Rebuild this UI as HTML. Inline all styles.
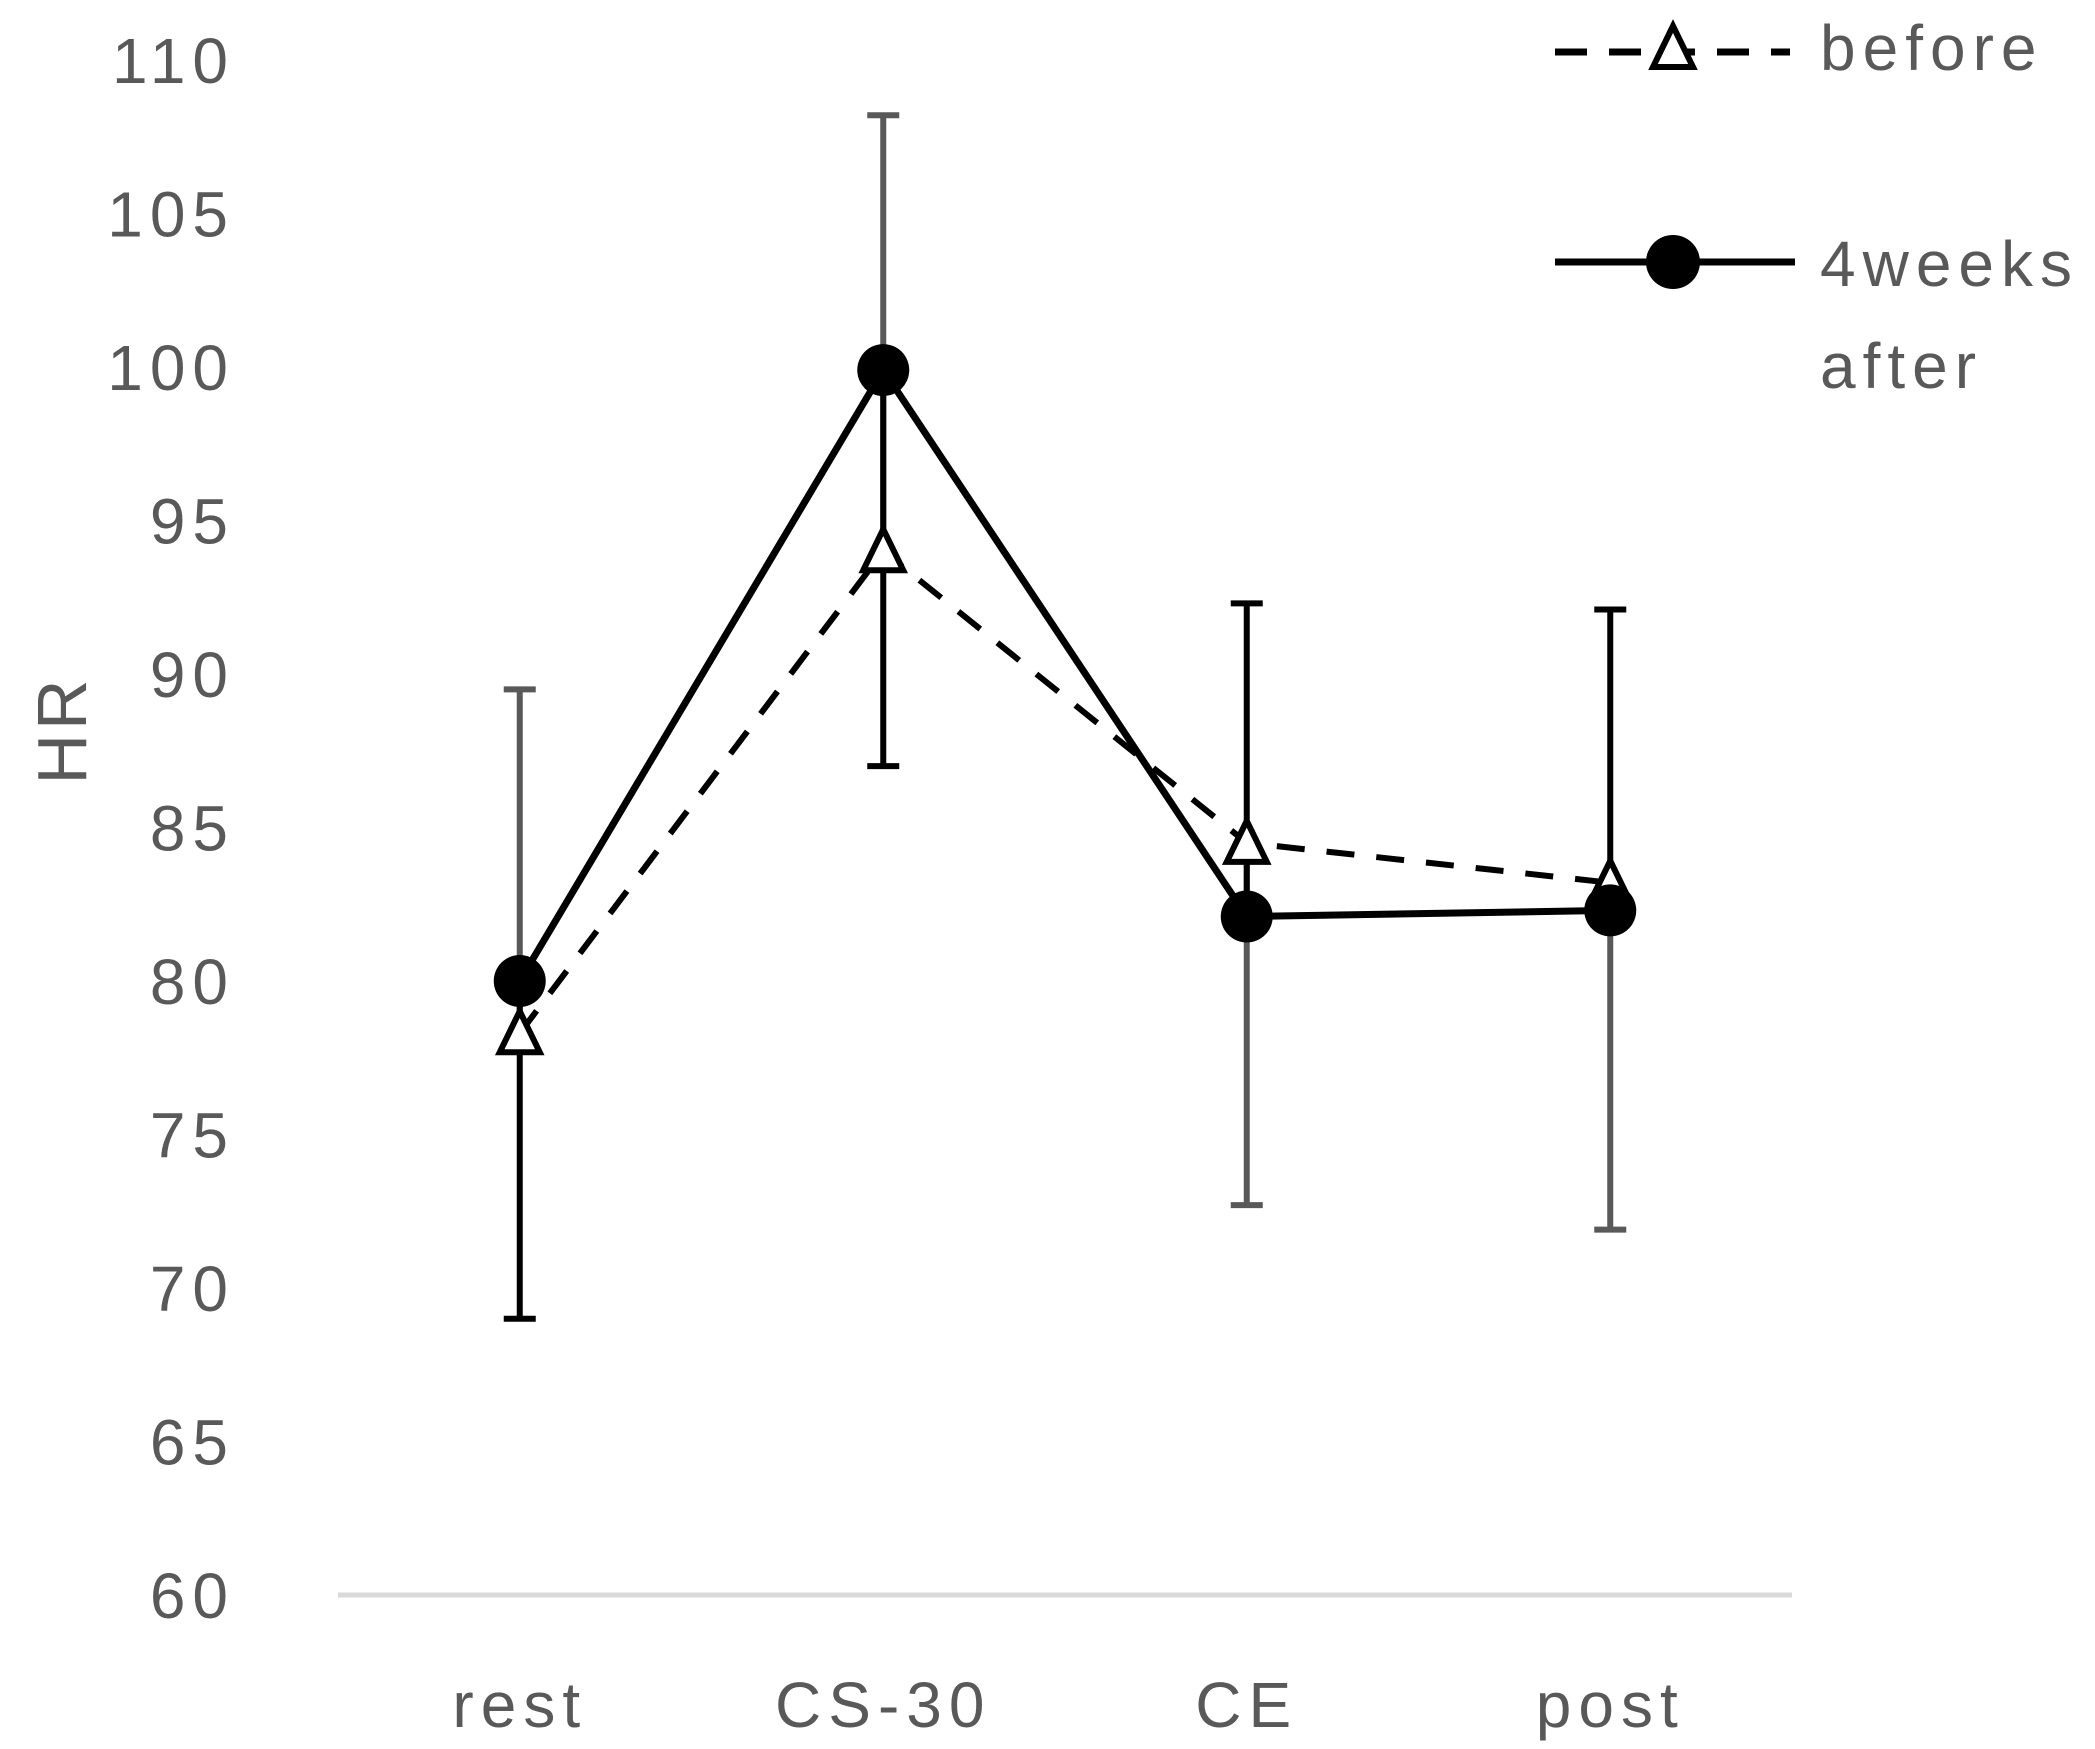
<!DOCTYPE html>
<html><head><meta charset="utf-8"><style>
html,body{margin:0;padding:0;background:#fff;}
svg{display:block;font-family:"Liberation Sans",sans-serif;}
</style></head><body>
<svg id="chart" width="2095" height="1749" viewBox="0 0 2095 1749">
<g id="axes"></g><g id="series"></g><g id="legend"></g>
</svg>
<script>
const categories = ["rest","CS-30","CE","post"];
const beforeValues = [78.3, 94.0, 84.5, 83.2];
const afterValues = [80.0, 99.9, 82.1, 82.3];
const beforeErrUp = [11.2, 14.2, 0, 0];
const beforeErrDown = [0, 0, 11.8, 11.3];
const afterErrUp = [0, 0, 10.2, 9.8];
const afterErrDown = [11.0, 12.9, 0, 0];
const yTicks = [60,65,70,75,80,85,90,95,100,105,110];

const NS="http://www.w3.org/2000/svg";
const y0=1595, y1=60, vMin=60, vMax=110;
const yS=v=>y0-(v-vMin)*(y0-y1)/(vMax-vMin);
const xL=338, xR=1792;
const xS=i=>xL+(i+0.5)*(xR-xL)/categories.length;
const FS=64, LS=7;
function mk(tag,attrs,parent,text){const e=document.createElementNS(NS,tag);for(const k in attrs)e.setAttribute(k,attrs[k]);if(text!==undefined)e.textContent=text;parent.appendChild(e);return e;}
const axes=document.getElementById('axes'), ser=document.getElementById('series'), leg=document.getElementById('legend');

let ax=mk('line',{x1:xL,x2:xR,y1:y0,y2:y0,stroke:'#d9d9d9','stroke-width':5},axes);


yTicks.forEach(t=>{
  const e=mk('text',{x:235,y:yS(t)+23,'text-anchor':'end','font-size':FS,'letter-spacing':LS,fill:'#595959'},axes,String(t));
  
  
});
categories.forEach((c,i)=>{
  const e=mk('text',{x:xS(i),y:1727,'text-anchor':'middle','font-size':FS,'letter-spacing':LS,fill:'#595959'},axes,c);
  
  
});
const yt=mk('text',{x:0,y:0,transform:'translate(86,730) rotate(-90)','text-anchor':'middle','font-size':70,'letter-spacing':4,fill:'#595959'},axes,'HR');



function errBar(i,v,up,down,color){
  [[v,v+up],[v,v-down]].forEach(([a,b])=>{
    if(a===b)return;
    const l=mk('line',{x1:xS(i),x2:xS(i),y1:yS(a),y2:yS(b),stroke:color,'stroke-width':6},ser);
    
    
    const c=mk('line',{x1:xS(i)-16,x2:xS(i)+16,y1:yS(b),y2:yS(b),stroke:color,'stroke-width':6},ser);
    
    
  });
}
categories.forEach((c,i)=>{errBar(i,beforeValues[i],beforeErrUp[i],beforeErrDown[i],'#595959');errBar(i,afterValues[i],afterErrUp[i],afterErrDown[i],'#000');});

const bl=mk('polyline',{points:beforeValues.map((v,i)=>xS(i)+','+yS(v)).join(' '),fill:'none',stroke:'#000','stroke-width':6,'stroke-dasharray':'28,22'},ser);


const al=mk('polyline',{points:afterValues.map((v,i)=>xS(i)+','+yS(v)).join(' '),fill:'none',stroke:'#000','stroke-width':7},ser);



function tri(x,y,parent){return mk('polygon',{points:`${x},${y-22} ${x-20},${y+19} ${x+20},${y+19}`,fill:'#fff',stroke:'#000','stroke-width':6},parent);}
beforeValues.forEach((v,i)=>{
  const t=tri(xS(i),yS(v),ser);
  
  
});
afterValues.forEach((v,i)=>{
  const c=mk('circle',{cx:xS(i),cy:yS(v),r:26,fill:'#000'},ser);
  
  
});

const l1=mk('line',{x1:1555,x2:1790,y1:52,y2:52,stroke:'#000','stroke-width':7,'stroke-dasharray':'32,22'},leg);


const lt=tri(1673,48,leg);


const t1=mk('text',{x:1820,y:70,'font-size':FS,'letter-spacing':LS,fill:'#595959'},leg,'before');


const l2=mk('line',{x1:1555,x2:1795,y1:262,y2:262,stroke:'#000','stroke-width':7},leg);


const lc=mk('circle',{cx:1673,cy:262,r:27,fill:'#000'},leg);


const t2=mk('text',{x:1820,y:286,'font-size':FS,'letter-spacing':LS,fill:'#595959'},leg,'4weeks');


const t3=mk('text',{x:1820,y:388,'font-size':FS,'letter-spacing':LS,fill:'#595959'},leg,'after');


</script>
</body></html>
